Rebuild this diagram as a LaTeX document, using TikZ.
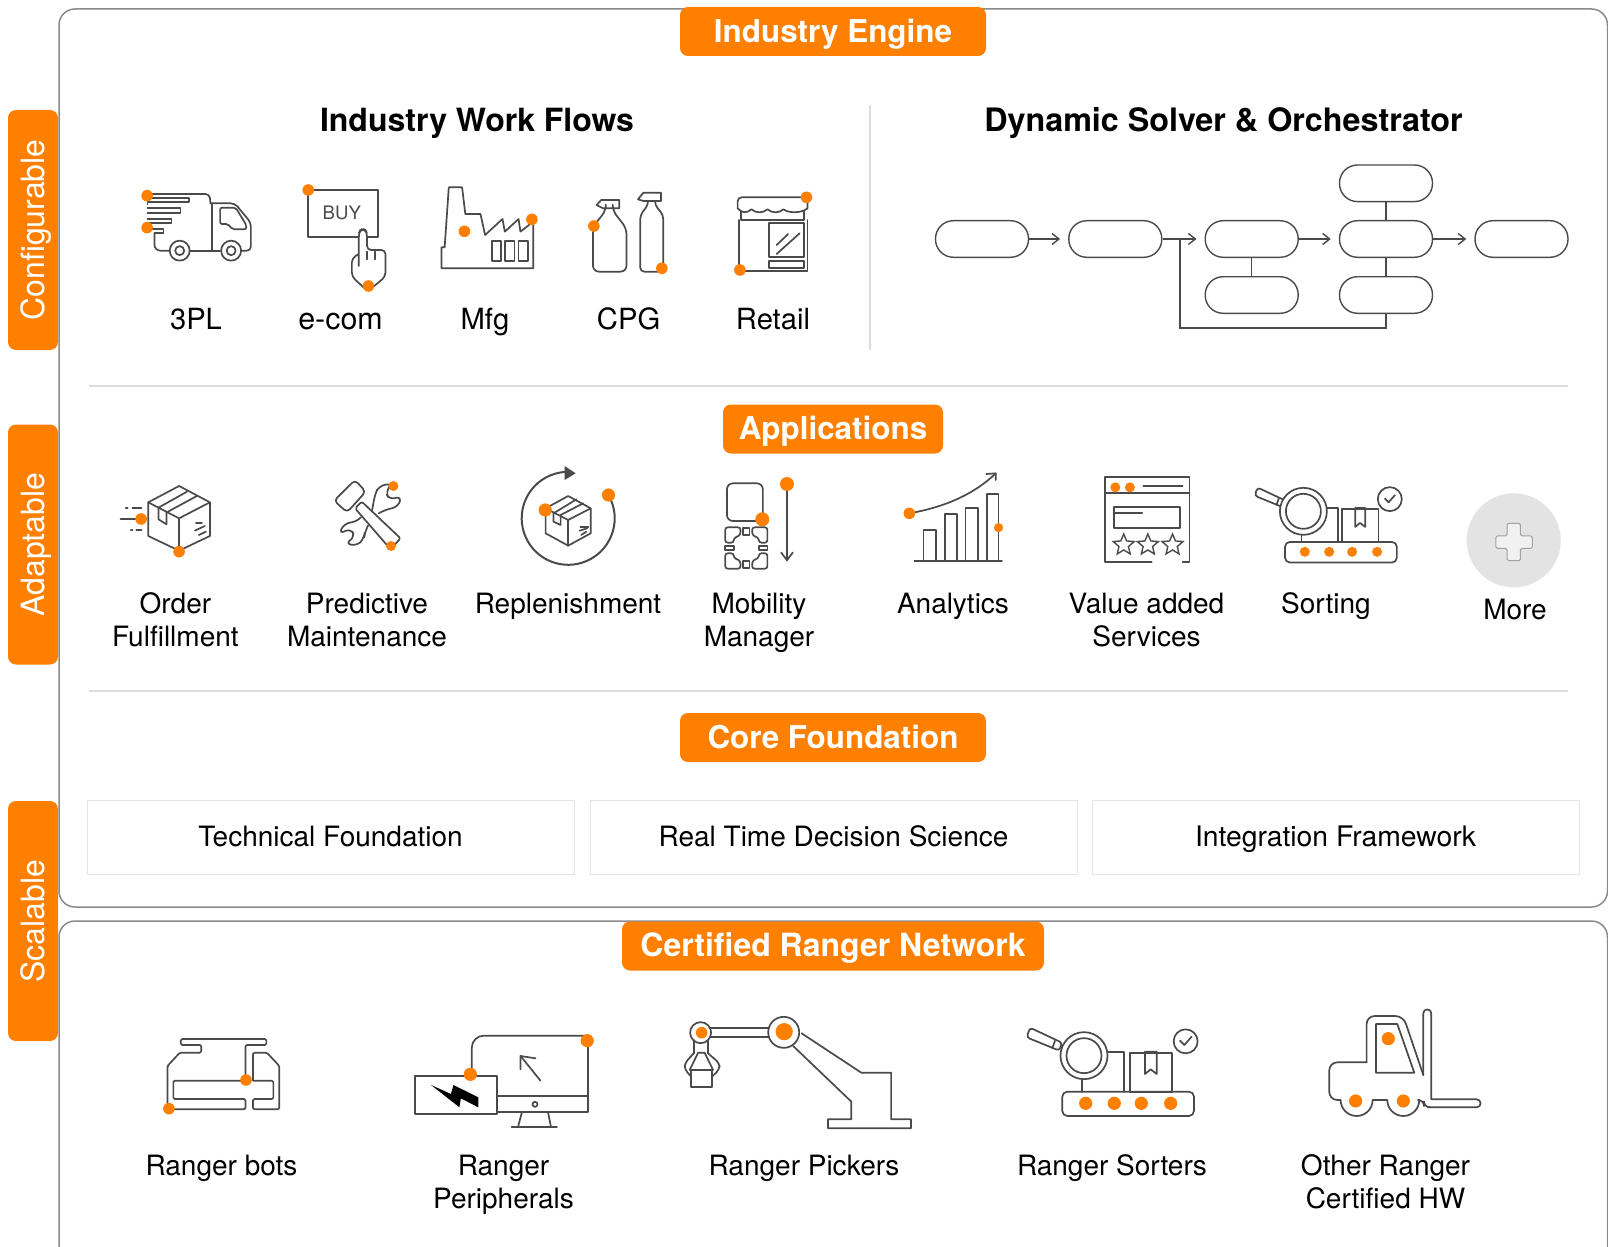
\documentclass[tikz,border=0pt]{standalone}
\usepackage{fontspec}
\setmainfont{TeX Gyre Heros}
\usetikzlibrary{arrows.meta,shapes.geometric}
\definecolor{org}{HTML}{FF7F00}
\definecolor{icg}{HTML}{4A4A4A}
\definecolor{frm}{HTML}{8A8A8A}
\definecolor{rul}{HTML}{DCDCDC}
\newcounter{dotc}
\newcommand\dd[3][odot]{\stepcounter{dotc}\node[#1] (dot\arabic{dotc}) at (#2,#3) {};}
\newcommand\cc[4][ic]{\path[#1] (#2,#3) ellipse [x radius=#4/\sx, y radius=#4/\sy];}
\newcommand\sorter[4]{%
  \def\sx{#3}\def\sy{#3}%
  \begin{scope}[shift={(#1,#2)},scale=#3]
    \draw[ic,rounded corners=2.5pt] (187,275) rectangle (582,348);
    \foreach \px in {257,343,424,512}{\dd[#4]{\px}{310}}
    \draw[ic] (245,237) -- (245,275);
    \draw[ic] (325,155) -- (373,155) -- (373,275);
    \draw[ic] (389,160) rectangle (517,277);
    \draw[ic] (435,155) -- (470,155) -- (470,222) -- (452,208) -- (435,222) -- cycle;
    \draw[ic,rounded corners=1.5pt] (186,128) -- (178,152) -- (80,112) -- (90,83) -- cycle;
    \draw[ic] (165,122) -- (157,145);
    \cc[icw]{252}{167}{23.5}
    \cc{252}{167}{17.5}
    \cc{557}{124}{12}
    \draw[ic] (540,122) -- (553,135) -- (575,110);
  \end{scope}}
\tikzset{
  ic/.style={draw=icg,line width=0.85pt,line join=round,line cap=round},
  icw/.style={ic,fill=white},
  odot/.style={circle,fill=org,inner sep=0pt,minimum size=5.8pt},
  odots/.style={circle,fill=org,inner sep=0pt,minimum size=5pt},
  odott/.style={circle,fill=org,inner sep=0pt,minimum size=4.6pt},
  odotb/.style={circle,fill=org,inner sep=0pt,minimum size=6.6pt},
  odotm/.style={circle,fill=org,inner sep=0pt,minimum size=7pt},
  odotx/.style={circle,fill=org,inner sep=0pt,minimum size=8.6pt},
  lab/.style={font=\fontsize{14}{16.5}\selectfont,align=center,text=black,inner sep=0pt},
  labb/.style={font=\fontsize{14.6}{16.5}\selectfont,align=center,text=black,inner sep=0pt},
  ttl/.style={font=\bfseries\fontsize{16.15}{18}\selectfont,text=black,inner sep=0pt,text height=11.5pt,text depth=0pt},
  hdr/.style={fill=org,rounded corners=4pt,text=white,font=\bfseries\fontsize{15.7}{18}\selectfont,inner sep=0pt,minimum height=24.5pt,text height=10.6pt,text depth=0pt},
  tabb/.style={fill=org,rounded corners=4pt,text=white,font=\fontsize{16}{18}\selectfont,inner sep=0pt,rotate=90,minimum width=120pt,minimum height=25pt,text height=11.5pt,text depth=0pt},
  fr/.style={draw=frm,line width=0.75pt,rounded corners=8pt},
  rule/.style={draw=rul,line width=0.7pt},
  cbox/.style={draw=rul!75,line width=0.5pt,minimum width=243.5pt,minimum height=37pt,inner sep=0pt,font=\fontsize{14}{16}\selectfont,text height=10pt,text depth=1pt},
  fl/.style={draw=icg,line width=0.7pt,rounded corners=9pt,minimum width=46.5pt,minimum height=18.3pt,inner sep=0pt},
  con/.style={draw=icg,line width=0.7pt},
  arw/.style={con,-{Straight Barb[length=3.5pt,width=5.5pt]},shorten >=4pt},
  strs/.style={star,star points=5,star point ratio=2.2,draw=icg,line width=0.7pt,inner sep=0pt,minimum size=11pt},
}
\begin{document}
\begin{tikzpicture}[x=0.5pt,y=-0.5pt]
\useasboundingbox (0,0) rectangle (1608,1247);
% frames
\draw[fr] (59,9) rectangle (1607.5,907);
\draw[fr] (59,921) rectangle (1607.5,1290);
% rules
\draw[rule] (870,105) -- (870,350);
\draw[rule] (89,386) -- (1568,386);
\draw[rule] (89,691) -- (1568,691);
% tabs
\node[tabb] (tconf) at (33,230) {Configurable};
\node[tabb] (tadap) at (33,544.5) {Adaptable};
\node[tabb] (tscal) at (33,921) {Scalable};
% headers
\node[hdr,minimum width=153pt] (h1) at (833,31.5) {Industry Engine};
\node[hdr,minimum width=110pt] (h2) at (833,429) {Applications};
\node[hdr,minimum width=153pt] (h3) at (833,737.5) {Core Foundation};
\node[hdr,minimum width=211pt,font=\bfseries\fontsize{16}{18}\selectfont] (h4) at (833,946) {Certified Ranger Network};
% titles
\node[ttl,font=\bfseries\fontsize{16}{18}\selectfont] (t1) at (477,120) {Industry Work Flows};
\node[ttl] (t2) at (1223.5,120) {Dynamic Solver \& Orchestrator};
% flow
\node[fl] (f1) at (982,239) {};
\node[fl] (f2) at (1115.3,239) {};
\node[fl] (f3) at (1251.7,239) {};
\node[fl] (f4) at (1386,239) {};
\node[fl] (f5) at (1521.5,239) {};
\node[fl] (f4t) at (1386,183.3) {};
\node[fl] (f3b) at (1251.7,295) {};
\node[fl] (f4b) at (1386,295) {};
\coordinate (junc) at (1180,239);
\draw[arw] (f1) -- (f2);
\draw[arw] (f2) -- (f3);
\draw[arw] (f3) -- (f4);
\draw[arw] (f4) -- (f5);
\draw[con] (f3) -- (f3b);
\draw[con] (f4t) -- (f4);
\draw[con] (f4) -- (f4b);
\draw[con] (f4b.south) -- ++(0,14) -| (junc);
% labels row 1
\node[labb] (l1) at (196,323) {\strut 3PL};
\node[labb,font=\fontsize{15.2}{16.5}\selectfont] (l2) at (340.5,323) {\strut e-com};
\node[labb] (l3) at (485,323) {\strut Mfg};
\node[labb] (l4) at (628.6,323) {\strut CPG};
\node[labb] (l5) at (773,323) {\strut Retail};
% labels row 2
\node[lab] (a1) at (175.4,623) {\strut Order\\\strut Fulfillment};
\node[lab] (a2) at (367,623) {\strut Predictive\\\strut Maintenance};
\node[lab] (a3) at (568,606.5) {\strut Replenishment};
\node[lab] (a4) at (759,623) {\strut Mobility\\\strut Manager};
\node[lab] (a5) at (953,606.5) {\strut Analytics};
\node[lab] (a6) at (1146.5,623) {\strut Value added\\\strut Services};
\node[lab] (a7) at (1326,606.5) {\strut Sorting};
\node[lab] (a8) at (1515,612.5) {\strut More};
% core
\node[cbox] (c1) at (330.5,837) {Technical Foundation};
\node[cbox] (c2) at (833.5,837) {Real Time Decision Science};
\node[cbox,font=\fontsize{14.15}{16}\selectfont] (c3) at (1335.5,837) {Integration Framework};
% labels row 3
\node[lab] (r1) at (221.5,1168.5) {\strut Ranger bots};
\node[lab] (r2) at (503.5,1185.5) {\strut Ranger\\\strut Peripherals};
\node[lab] (r3) at (804,1168.5) {\strut Ranger Pickers};
\node[lab] (r4) at (1112,1168.5) {\strut Ranger Sorters};
\node[lab] (r5) at (1385.5,1185.5) {\strut Other Ranger\\\strut Certified HW};

% ===== row 1 icons
\def\sx{0.4592}\def\sy{0.3333}
\begin{scope}[shift={(120,170)},xscale=\sx,yscale=\sy]
  % truck
  \draw[ic,rounded corners=2pt] (60,72) -- (195,72) -- (197,100);
  \draw[ic] (60,84) -- (150,84) -- (150,97) -- (60,97) -- (60,103);
  \draw[ic] (60,115) -- (132,115) -- (132,128) -- (60,128);
  \draw[ic] (60,147) -- (112,147) -- (112,160) -- (60,160);
  \draw[ic] (60,178) -- (95,178) -- (95,190) -- (75,190);
  \draw[ic,rounded corners=3pt] (75,190) -- (75,242) -- (108,242);
  \draw[ic] (152,242) -- (218,242);
  \draw[ic] (200,242) -- (200,100);
  \draw[ic,rounded corners=2pt] (197,100) -- (250,100) -- (285,158) -- (285,242) -- (265,242);
  \draw[ic,rounded corners=1pt] (218,113) -- (252,113) -- (275,165) -- (275,178) -- (245,178) -- (235,162) -- (218,162) -- cycle;
  \cc[icw]{130}{242}{10}\cc{130}{242}{4.5}
  \cc[icw]{242}{242}{10}\cc{242}{242}{4.5}
  \dd{59}{77}\dd{59}{173}
  % BUY
  \draw[ic] (410,60) rectangle (562,200);
  \node[font=\fontsize{9.3}{11}\selectfont,text=icg,inner sep=0pt] (buy) at (483,128) {BUY};
  \draw[icw,rounded corners=2pt] (520,288) -- (520,190) -- (524,178) -- (534,178) -- (538,190) -- (538,240) -- (578,240) -- (578,320) -- (545,358) -- (535,358) -- (505,320) -- (505,265) -- (520,252);
  \draw[ic] (555,245) -- (555,268);\draw[ic] (538,245) -- (538,268);
  \dd{410}{60}\dd{541}{348}
  % factory
  \draw[ic] (700,295) -- (700,232) -- (707,232) -- (716,52) -- (745,52) -- (752,132) -- (785,132) -- (795,195) -- (833,147) -- (838,185) -- (868,147) -- (872,185) -- (900,155) -- (900,295) -- cycle;
  \draw[ic] (810,213) rectangle (830,272);
  \draw[ic] (839,213) rectangle (859,272);
  \draw[ic] (868,213) rectangle (888,272);
  \dd{750}{184}\dd{897}{148}
  % bottles
  \draw[ic] (1048,90) -- (1087,90) -- (1087,115) -- (1052,115) -- (1038,105) -- cycle;
  \draw[ic,rounded corners=3pt] (1058,115) -- (1058,122) -- (1030,170) -- (1030,305) -- (1103,305) -- (1103,175) -- (1073,122) -- (1073,115);
  \draw[ic] (1140,68) -- (1178,68) -- (1178,93) -- (1140,93) -- (1128,88) -- cycle;
  \draw[ic,rounded corners=2pt] (1150,93) -- (1150,105) -- (1133,135) -- (1133,305) -- (1183,305) -- (1183,135) -- (1165,105) -- (1165,93);
  \dd{1032}{168}\dd{1180}{295}
  % shop
  \draw[ic,rounded corners=2pt] (1345,115) -- (1345,82) -- (1497,82) -- (1497,115);
  \draw[ic] (1353,125) -- (1353,150) -- (1490,150) -- (1490,125);
  \draw[ic] (1345,115) .. controls (1355,130) and (1365,130) .. (1375,118) .. controls (1385,130) and (1400,130) .. (1410,118) .. controls (1420,130) and (1435,130) .. (1445,118) .. controls (1455,130) and (1485,130) .. (1497,115);
  \draw[ic] (1348,150) -- (1348,302) -- (1497,302) -- (1497,150);
  \draw[ic] (1413,160) rectangle (1490,262);
  \draw[ic] (1430,225) -- (1455,192);
  \draw[ic] (1430,252) -- (1480,190);
  \draw[ic] (1413,273) rectangle (1490,295);
  \dd{1495}{82}\dd{1350}{300}
\end{scope}

% ===== row 2 icons left
\draw[ic,line width=1pt] (568.2,518.3) ++(-29.5:46.5) arc[start angle=-29.5,end angle=266,radius=46.5];
\def\sx{0.3954}\def\sy{0.3333}
\begin{scope}[shift={(100,460)},xscale=\sx,yscale=\sy]
  % box
  \draw[ic] (200,78) -- (278,127) -- (278,228) -- (200,272) -- (122,228) -- (122,127) -- cycle;
  \draw[ic] (122,127) -- (200,175) -- (278,127);
  \draw[ic] (200,175) -- (200,272);
  \draw[ic] (148,143) -- (220,95);
  \draw[ic] (172,155) -- (245,108);
  \draw[ic] (148,143) -- (148,178) -- (168,193) -- (168,155);
  \draw[ic] (243,188) -- (258,188);
  \draw[ic] (240,212) -- (265,198);
  \draw[ic] (250,225) -- (268,215);
  \draw[ic] (65,145) -- (70,145);\draw[ic] (82,145) -- (105,145);
  \draw[ic] (52,177) -- (110,177);
  \draw[ic] (78,210) -- (82,210);\draw[ic] (92,210) -- (105,210);
  \dd{104}{177}\dd{200}{275}
  % tools
  \draw[ic,rounded corners=2pt] (645,60) -- (672,95) -- (625,157) -- (592,122) -- cycle;
  \draw[ic,rounded corners=1pt] (645,145) -- (662,125) -- (760,235) -- (735,268) -- cycle;
  \draw[ic,rounded corners=3pt] (688,152) -- (695,105) -- (705,78) -- (740,70) -- (722,95) -- (732,120) -- (762,108) -- (755,140) -- (720,150) -- (705,160);
  \draw[ic,rounded corners=3pt] (660,172) -- (650,185) -- (618,190) -- (604,222) -- (635,205) -- (645,232) -- (620,250) -- (650,258) -- (668,235) -- (670,215) -- (678,197);
  \dd[odots]{742}{78}\dd[odots]{736}{258}
  % replenishment
  \draw[ic] (1184,108) -- (1241,145) -- (1241,220) -- (1184,257) -- (1127,220) -- (1127,145) -- cycle;
  \draw[ic] (1127,145) -- (1184,180) -- (1241,145);
  \draw[ic] (1184,180) -- (1184,257);
  \draw[ic] (1147,160) -- (1205,118);
  \draw[ic] (1165,165) -- (1222,130);
  \draw[ic] (1147,160) -- (1147,185) -- (1165,195) -- (1165,165);
  \draw[ic] (1215,200) -- (1235,200);
  \draw[ic] (1213,212) -- (1232,205);
  \draw[ic] (1217,225) -- (1230,215);
  \fill[icg] (1175,18) -- (1203,40) -- (1175,60) -- cycle;
  \dd[odotb]{1126}{150}\dd[odotb]{1286}{105}
\end{scope}

% ===== row 2 icons right
\def\sx{0.5612}\def\sy{0.3333}
\begin{scope}[shift={(700,460)},xscale=\sx,yscale=\sy]
  % mobility
  \draw[ic,rounded corners=3pt] (48,70) rectangle (112,183);
  \draw[ic,-{Straight Barb[length=4pt,width=6pt]}] (155,72) -- (155,305);
  \draw[ic,rounded corners=1.2pt] (72,202) -- (45,202) -- (45,248) -- (60,248) -- (60,235) -- (72,225) -- cycle;
  \draw[ic,rounded corners=1.2pt] (93,202) -- (120,202) -- (120,248) -- (105,248) -- (105,235) -- (93,225) -- cycle;
  \draw[ic,rounded corners=1.2pt] (72,326) -- (45,326) -- (45,280) -- (60,280) -- (60,293) -- (72,303) -- cycle;
  \draw[ic,rounded corners=1.2pt] (93,326) -- (120,326) -- (120,280) -- (105,280) -- (105,293) -- (93,303) -- cycle;
  \draw[ic] (77,205) rectangle (88,225);
  \draw[ic] (77,303) rectangle (88,323);
  \draw[ic] (45,258) rectangle (60,270);
  \draw[ic] (105,258) rectangle (120,270);
  \dd[odotm]{155}{72}\dd[odotm]{111}{178}
  % analytics
  \draw[ic] (382,302) -- (538,302);
  \draw[ic] (398,302) -- (398,210) -- (420,210) -- (420,302);
  \draw[ic] (436,302) -- (436,162) -- (458,162) -- (458,302);
  \draw[ic] (473,302) -- (473,143) -- (495,143) -- (495,302);
  \draw[ic] (511,302) -- (511,102) -- (532,102) -- (532,302);
  \draw[ic] (373,160) .. controls (440,140) and (490,100) .. (527,40);
  \draw[ic] (510,42) -- (527,40) -- (527,60);
  \dd{373}{160}\dd[odott]{532}{203}
  % value added
  \draw[ic] (805,305) -- (722,305) -- (722,50) -- (872,50) -- (872,305) -- (860,305);
  \draw[ic] (722,100) -- (872,100);
  \draw[ic] (790,78) -- (860,78);
  \draw[ic] (738,140) rectangle (855,205);
  \draw[ic] (738,160) -- (788,160);
  \node[strs] (s1) at (755,255) {};
  \node[strs] (s2) at (798,255) {};
  \node[strs] (s3) at (842,255) {};
  \dd[odots]{740}{82}\dd[odots]{766}{82}
  % more
  \fill[rul!80!white] (1450,241) ellipse [x radius=47/\sx, y radius=47/\sy];
  \draw[draw=frm!80,fill=rul!40!white,line width=0.5pt,rounded corners=0.8pt] (1438,190) -- (1462,190) -- (1462,228) -- (1483,228) -- (1483,265) -- (1462,265) -- (1462,302) -- (1438,302) -- (1438,265) -- (1418,265) -- (1418,228) -- (1438,228) -- cycle;
\end{scope}
\sorter{1232}{464}{0.2833}{odots}

% ===== row 3 icons left
\def\sx{0.4974}\def\sy{0.3333}
\begin{scope}[shift={(150,1010)},xscale=\sx,yscale=\sy]
  % bot
  \draw[ic,rounded corners=0.7pt] (35,298) -- (35,168) -- (60,128) -- (103,128) -- (103,105) -- (62,105) -- (62,87) -- (234,87) -- (234,105) -- (192,105) -- (192,212);
  \draw[ic,rounded corners=0.7pt] (192,212) -- (47,212) -- (47,267) -- (192,267) -- (192,298) -- (35,298);
  \draw[ic,rounded corners=0.7pt] (207,210) -- (207,128) -- (235,128) -- (260,168) -- (260,298) -- (207,298) -- (207,267) -- (248,267) -- (248,212) -- (207,212);
  \dd{193}{210}\dd{38}{296}
  % peripherals
  \draw[ic,rounded corners=6pt] (647,195) -- (647,77) -- (880,77);
  \draw[ic] (880,77) -- (880,305) -- (698,305);
  \draw[ic] (698,258) -- (880,258);
  \draw[ic] (533,197) rectangle (698,313);
  \fill[black] (565,225) -- (605,252) -- (610,225) -- (660,262) -- (660,292) -- (625,265) -- (622,292) -- cycle;
  \draw[ic] (785,212) -- (745,138);
  \draw[ic] (745,178) -- (745,138) -- (775,145);
  \cc{774}{283}{2.5}
  \draw[ic] (748,305) -- (740,350);
  \draw[ic] (800,305) -- (806,350);
  \draw[ic] (727,350) -- (818,350);
  \dd[odotb]{644}{193}\dd[odotb]{879}{92}
  % picker
  \draw[ic] (1125,55) -- (1245,55);
  \draw[ic] (1125,82) -- (1245,82);
  \draw[ic] (1310,70) -- (1430,188) -- (1490,188) -- (1490,328) -- (1530,328) -- (1530,355) -- (1363,355) -- (1363,328) -- (1410,328) -- (1410,275) -- (1293,108);
  \cc{1107}{68}{10.5}
  \cc{1274}{67}{15.5}
  \draw[ic] (1093,90) -- (1093,130);
  \draw[ic] (1122,90) -- (1122,130);
  \draw[ic] (1088,180) rectangle (1130,232);
  \draw[ic,rounded corners=2pt] (1093,130) -- (1075,160) -- (1075,178) -- (1088,200);
  \draw[ic,rounded corners=2pt] (1122,130) -- (1145,160) -- (1145,178) -- (1130,200);
  \draw[ic] (1085,180) -- (1102,128) -- (1115,128) -- (1132,180);
  \dd[odot]{1109}{68}\dd[odotx]{1275}{65}
\end{scope}
\sorter{1000}{1000}{0.3333}{odotb}
% forklift
\def\sx{0.3333}\def\sy{0.3333}
\begin{scope}[shift={(1000,1000)},scale=\sx]
  \draw[ic,rounded corners=4pt] (1022,300) -- (988,300) -- (988,187) -- (1100,187);
  \draw[ic,rounded corners=4pt] (1100,187) -- (1100,48) -- (1210,48) -- (1270,225);
  \draw[ic] (1270,225) -- (1270,40) arc[start angle=180,end angle=360,radius=12] -- (1294,298) -- (1430,298) arc[start angle=-90,end angle=90,radius=12] -- (1285,322);
  \draw[ic,rounded corners=3pt] (1285,322) -- (1272,322) -- (1272,300) -- (1258,300);
  \draw[ic] (1258,300) arc[start angle=0,end angle=180,radius=48] -- (1118,300) arc[start angle=0,end angle=180,radius=48];
  \draw[ic] (1128,72) -- (1192,72) -- (1243,218) -- (1128,218) -- cycle;
  \dd[odotb]{1165}{116}\dd[odotb]{1067}{303}\dd[odotb]{1210}{303}
\end{scope}
\end{tikzpicture}
\end{document}
